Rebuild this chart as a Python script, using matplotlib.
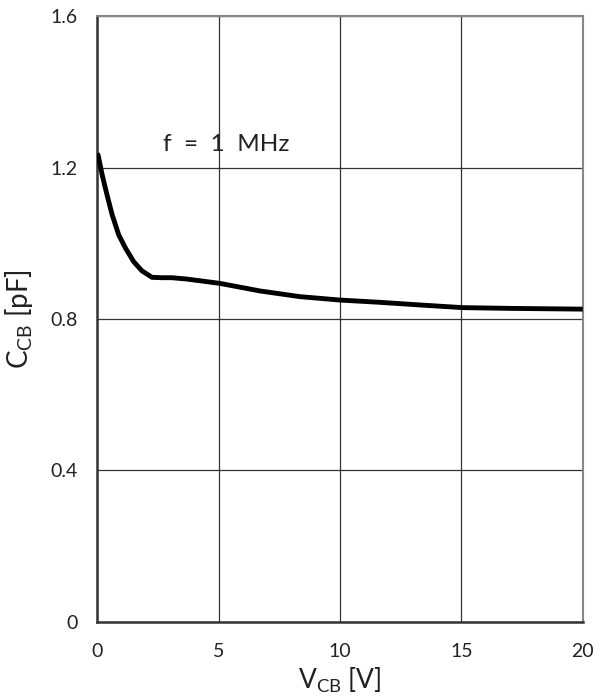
import matplotlib
matplotlib.use("Agg")
import matplotlib.pyplot as plt
import numpy as np

v_cb = [0.0, 0.04, 0.21, 0.41, 0.62, 0.89, 1.17, 1.51, 1.85, 2.26, 2.67, 3.09, 3.42, 3.63,
        5.06, 6.71, 8.35, 10.0, 11.65, 13.3, 15.05, 17.0, 18.5, 20.0]
c_cb = [1.236, 1.233, 1.180, 1.127, 1.075, 1.022, 0.987, 0.951, 0.927, 0.910, 0.909, 0.909, 0.907, 0.906,
        0.894, 0.874, 0.859, 0.850, 0.844, 0.837, 0.830, 0.828, 0.827, 0.826]

xticks = [0, 5, 10, 15, 20]
yticks = [0, 0.4, 0.8, 1.2, 1.6]
ytick_labels = ["0", "0.4", "0.8", "1.2", "1.6"]

plt.rcParams['font.family'] = ['Lato', 'DejaVu Sans']
plt.rcParams['mathtext.default'] = 'regular'
fig = plt.figure(figsize=(6.07, 6.98), dpi=100)
ax = fig.add_axes([0.160, 0.109, 0.800, 0.868])

ax.plot(v_cb, c_cb, color='black', lw=3.5, solid_capstyle='butt',
        solid_joinstyle='round', zorder=3)

ax.set_xlim(0, 20)
ax.set_ylim(0, 1.6)
ax.set_xticks(xticks)
ax.set_yticks(yticks)
ax.set_yticklabels(ytick_labels)
ax.grid(True, color='#333333', lw=0.9)
ax.tick_params(length=0, labelsize=14, colors='#222222')
ax.tick_params(axis='x', pad=15)
ax.tick_params(axis='y', pad=14)
for s in ['top', 'right']:
    ax.spines[s].set_color('#888888')
    ax.spines[s].set_linewidth(1.5)
for s in ['left', 'bottom']:
    ax.spines[s].set_color('#333333')
    ax.spines[s].set_linewidth(1.8)

ax.text(2.7, 1.26, "f  =  1  MHz", fontsize=17.5, color='#222222', va='center', ha='left')
ax.set_xlabel(r"V$_{CB}$ [V]", fontsize=19, color='#222222', labelpad=4)
ax.set_ylabel(r"C$_{CB}$ [pF]", fontsize=20, color='#222222', labelpad=11)

fig.savefig("out.png", dpi=100)
